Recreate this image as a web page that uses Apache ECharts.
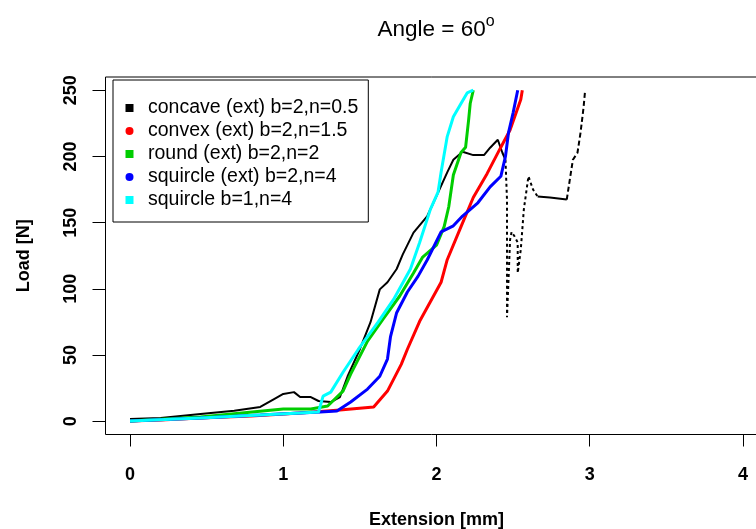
<!DOCTYPE html>
<html>
<head>
<meta charset="utf-8">
<script src="https://cdn.jsdelivr.net/npm/echarts@6/dist/echarts.min.js"></script>
<style>
html,body{margin:0;padding:0;background:#fff;}
#chart{width:756px;height:529px;}
</style>
</head>
<body>
<div id="chart"></div>
<script>
// ---- data (Extension [mm], Load [N]) ----
const seriesNames = ['concave (ext) b=2,n=0.5','convex (ext) b=2,n=1.5','round (ext) b=2,n=2','squircle (ext) b=2,n=4','squircle b=1,n=4'];
const seriesColors = ['#000000','#FF0000','#00CD00','#0000FF','#00FFFF'];
const xTicks = [0,1,2,3,4];
const yTicks = [0,50,100,150,200,250];

const concaveSolid = [[0,1.7],[0.2,2.5],[0.46,5.5],[0.68,8],[0.85,10.8],[0.94,16.8],[1.0,20.6],[1.07,22],[1.11,18.3],[1.18,18.3],[1.23,15.3],[1.31,14.5],[1.37,18.3],[1.42,34],[1.5,54.4],[1.57,75],[1.63,99.6],[1.68,105],[1.74,115],[1.78,126],[1.85,142.5],[1.94,155],[1.98,165],[2.07,188],[2.11,197.5],[2.17,203.6],[2.24,201],[2.31,201],[2.35,206.6],[2.4,212.6],[2.43,202.8],[2.45,197.5]];
const concaveDrop = [[2.45,197.5],[2.46,167.4],[2.46,122],[2.46,78.5],[2.47,107],[2.48,137],[2.49,143],[2.51,139.5],[2.53,135],[2.53,112],[2.55,129.7],[2.57,160],[2.6,185],[2.63,175],[2.66,169.7]];
const concaveFlat = [[2.66,169.7],[2.74,169],[2.85,167.4]];
const concaveRise = [[2.85,167.4],[2.87,182.5],[2.89,197.5],[2.92,202.8],[2.94,218],[2.96,237.4],[2.97,250]];
const convexData = [[0,0.2],[0.2,1],[0.46,2.5],[0.79,4],[1.11,6.2],[1.37,8.5],[1.59,10.8],[1.68,22.8],[1.77,43],[1.81,54.4],[1.89,75.5],[2.03,105],[2.07,122],[2.16,147],[2.24,169],[2.33,187],[2.42,207],[2.48,220],[2.55,243],[2.56,250]];
const roundData = [[0,0.2],[0.46,3.2],[1.0,9.3],[1.18,9.3],[1.29,11.5],[1.39,22.8],[1.44,35.6],[1.55,60.5],[1.65,77],[1.76,94.6],[1.85,112],[1.91,124],[2.0,133],[2.05,147],[2.08,162],[2.11,186],[2.16,203],[2.19,207],[2.21,228],[2.22,240],[2.24,250]];
const squircle2Data = [[0,0.2],[0.46,2.5],[0.85,4.7],[1.24,7],[1.35,7.8],[1.44,14.5],[1.55,24.3],[1.63,34],[1.68,47],[1.7,64],[1.74,82],[1.81,97.6],[1.88,109.6],[1.94,122],[2.03,143],[2.11,147.6],[2.17,155],[2.27,165],[2.35,177],[2.42,185],[2.45,200],[2.47,218],[2.5,233],[2.53,250]];
const squircle1Data = [[0,0.2],[0.46,2.5],[1.11,6.2],[1.23,7],[1.26,19],[1.31,22],[1.39,37],[1.49,54.4],[1.62,75],[1.72,92],[1.83,115],[1.89,135],[1.96,160],[2.01,173],[2.03,188],[2.07,215],[2.11,230],[2.16,240],[2.2,248],[2.24,250]];

const FONT = '"Liberation Sans", Arial, sans-serif';
const SQ = 'path://M0,0L1,0L1,1L0,1Z';
const CI = 'path://M1,0.5A0.5,0.5,0,1,1,0,0.5A0.5,0.5,0,1,1,1,0.5Z';
const icons = [SQ, CI, SQ, CI, SQ];

function lineSeries(name, data, color, width, type, z) {
  return {
    name: name, type: 'line', data: data, color: color,
    showSymbol: false, symbol: 'none', silent: true, z: z,
    lineStyle: { color: color, width: width, type: type, cap: 'butt' },
    itemStyle: { color: color }
  };
}

const chart = echarts.init(document.getElementById('chart'), null, { renderer: 'canvas' });
chart.setOption({
  animation: false,
  backgroundColor: '#ffffff',
  title: {
    text: 'Angle = 60{sup|o}',
    left: 436, top: 14, textAlign: 'center', padding: 0,
    textStyle: {
      fontFamily: FONT, fontSize: 22.5, fontWeight: 'normal', color: '#000', lineHeight: 32,
      rich: { sup: { fontFamily: FONT, fontSize: 16, color: '#000', lineHeight: 1, verticalAlign: 'top' } }
    }
  },
  legend: {
    data: seriesNames.map((n, i) => ({ name: n, icon: icons[i] })),
    orient: 'vertical', left: 113, top: 80,
    itemWidth: 27, itemHeight: 8, itemGap: 0,
    padding: [16.5, 10, 10.5, 12.5],
    borderColor: '#000', borderWidth: 1, backgroundColor: '#fff',
    selectedMode: false,
    textStyle: { fontFamily: FONT, fontSize: 19.5, color: '#000', lineHeight: 23 }
  },
  grid: {
    left: 105.5, top: 77, width: 662, height: 357.5,
    outerBoundsMode: 'none',
    show: true, borderColor: '#000', borderWidth: 1, backgroundColor: 'transparent',
    containLabel: false
  },
  xAxis: {
    type: 'value', min: -0.16, max: 4.16,
    name: 'Extension [mm]', nameLocation: 'middle', nameGap: 76.5,
    nameTextStyle: { fontFamily: FONT, fontSize: 18, fontWeight: 'bold', color: '#000' },
    axisLine: { show: false, onZero: false },
    splitLine: { show: false },
    axisTick: { show: true, inside: false, length: 12, customValues: xTicks, lineStyle: { color: '#000', width: 1 } },
    axisLabel: { customValues: xTicks, margin: 31.5, fontFamily: FONT, fontSize: 18, fontWeight: 'bold', color: '#000' }
  },
  yAxis: {
    type: 'value', min: -10, max: 260,
    name: 'Load [N]', nameLocation: 'middle', nameGap: 72.5, nameRotate: 90,
    nameTextStyle: { fontFamily: FONT, fontSize: 18, fontWeight: 'bold', color: '#000' },
    axisLine: { show: false, onZero: false },
    splitLine: { show: false },
    axisTick: { show: true, inside: false, length: 13, customValues: yTicks, lineStyle: { color: '#000', width: 1 } },
    axisLabel: { customValues: yTicks, rotate: 90, margin: 25, fontFamily: FONT, fontSize: 18, fontWeight: 'bold', color: '#000' }
  },
  series: [
    lineSeries(seriesNames[0], concaveSolid, seriesColors[0], 2, 'solid', 1),
    lineSeries('concave drop', concaveDrop, seriesColors[0], 2, [3, 3], 1),
    lineSeries('concave flat', concaveFlat, seriesColors[0], 2, 'solid', 1),
    lineSeries('concave rise', concaveRise, seriesColors[0], 2, [5, 3], 1),
    lineSeries(seriesNames[1], convexData, seriesColors[1], 3, 'solid', 2),
    lineSeries(seriesNames[2], roundData, seriesColors[2], 3, 'solid', 3),
    lineSeries(seriesNames[3], squircle2Data, seriesColors[3], 3, 'solid', 4),
    lineSeries(seriesNames[4], squircle1Data, seriesColors[4], 3, 'solid', 5)
  ]
});
</script>
</body>
</html>
